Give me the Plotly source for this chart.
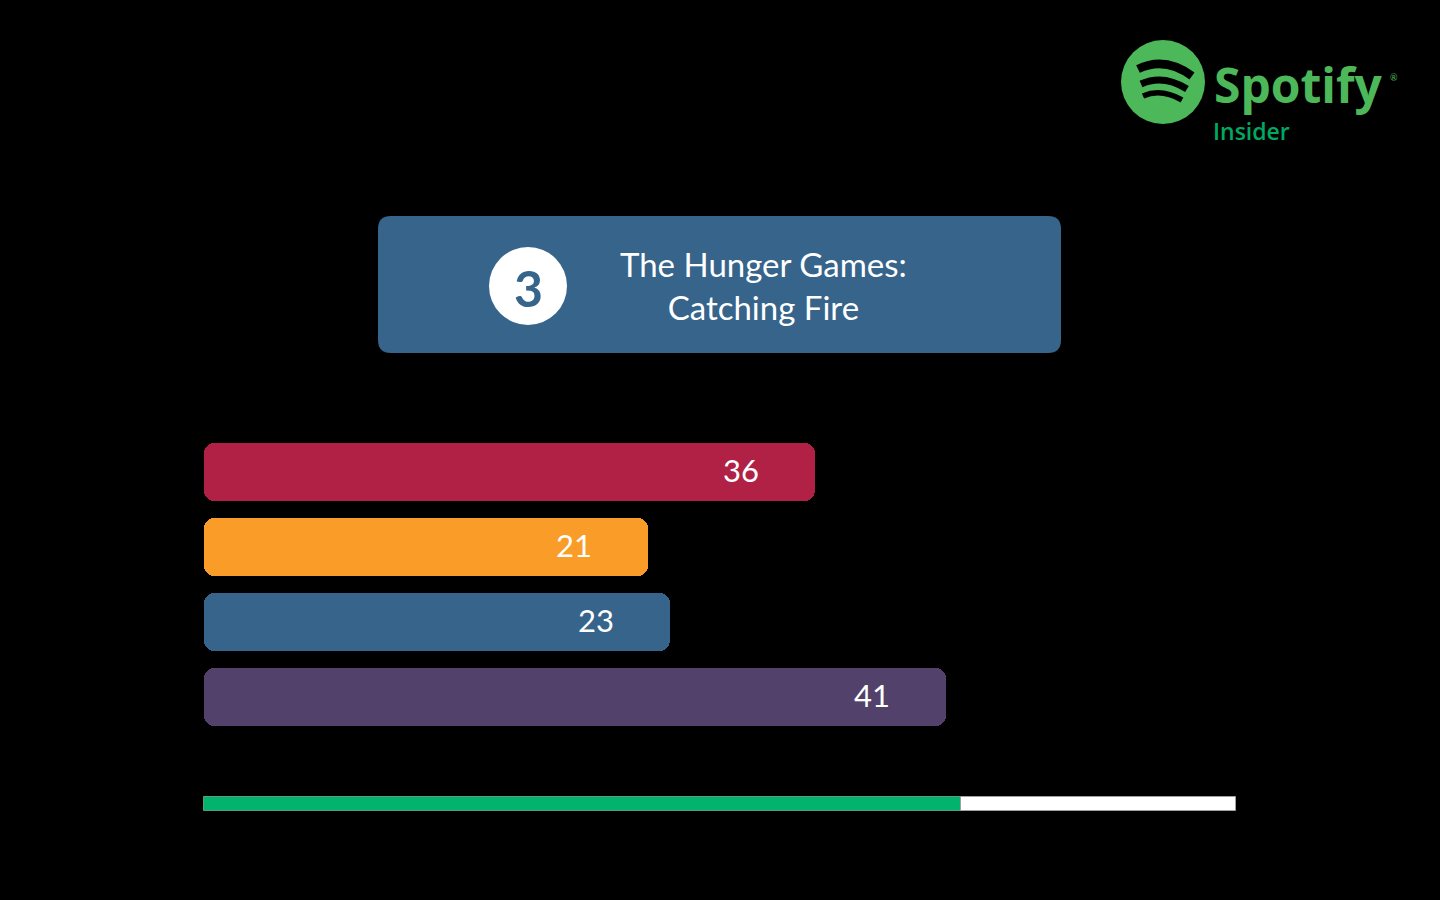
import plotly.graph_objects as go

# ---------------- data ----------------
categories = ["A", "B", "C", "D"]
bar_lengths = [59.2, 43.0, 45.2, 71.9]          # drawn length, % of track
value_labels = ["36", "21", "23", "41"]
bar_colors = ["#B02145", "#F99D28", "#36648B", "#52416B"]
progress_done = 73.4                            # % of progress track
progress_total = 100
rank_label = "3"
title_lines = ["The Hunger Games:", "Catching Fire"]

W, H = 1440, 900
X0_PX, TRACK_PX = 204, 1032            # axis 0 at 204px, 100 units = 1032px
ROW0_PX, ROW_PX = 472, 75              # centre of first bar, row spacing
ppu = TRACK_PX / 100.0

def px(x):
    return x / W

def py(y):
    return 1 - y / H

n = len(categories)
ypos = list(range(n))
cap = 4.0     # left rounded cap width (data units)
fig = go.Figure()

# rounded left caps (negative bars, tip at 0)
fig.add_trace(go.Bar(
    y=ypos, x=[-cap] * n, base=[cap] * n, orientation="h",
    marker=dict(color=bar_colors, cornerradius=10, line=dict(width=0)),
    width=58 / ROW_PX, hoverinfo="skip", showlegend=False))
# main bars, rounded at right end
fig.add_trace(go.Bar(
    y=ypos, x=[v - cap / 2 for v in bar_lengths], base=[cap / 2] * n, orientation="h",
    marker=dict(color=bar_colors, cornerradius=10, line=dict(width=0)),
    width=58 / ROW_PX, hoverinfo="skip", showlegend=False))

# progress track
prog_y = (804 - ROW0_PX) / ROW_PX
fig.add_trace(go.Bar(
    y=[prog_y], x=[progress_done], base=[0], orientation="h",
    marker=dict(color="#02B36D", line=dict(width=1, color="#5c9c7e")),
    width=14 / ROW_PX, hoverinfo="skip", showlegend=False))
fig.add_trace(go.Bar(
    y=[prog_y], x=[progress_total - progress_done], base=[progress_done], orientation="h",
    marker=dict(color="#FFFFFF", line=dict(width=1, color="#A0A0A0")),
    width=14 / ROW_PX, hoverinfo="skip", showlegend=False))

annotations = []
for i, (v, lab) in enumerate(zip(bar_lengths, value_labels)):
    annotations.append(dict(
        x=v, y=i, xref="x", yref="y", text=lab, showarrow=False,
        xanchor="right", yanchor="middle", xshift=-54, yshift=2,
        font=dict(family="Lato", size=31, color="#FFFFFF")))

shapes = []
# title box (rounded rect)
bx0, bx1, by0, by1, r = 378, 1061, 216, 353, 13
path = (f"M {px(bx0 + r)},{py(by0)} L {px(bx1 - r)},{py(by0)} "
        f"Q {px(bx1)},{py(by0)} {px(bx1)},{py(by0 + r)} "
        f"L {px(bx1)},{py(by1 - r)} Q {px(bx1)},{py(by1)} {px(bx1 - r)},{py(by1)} "
        f"L {px(bx0 + r)},{py(by1)} Q {px(bx0)},{py(by1)} {px(bx0)},{py(by1 - r)} "
        f"L {px(bx0)},{py(by0 + r)} Q {px(bx0)},{py(by0)} {px(bx0 + r)},{py(by0)} Z")
shapes.append(dict(type="path", path=path, xref="paper", yref="paper",
                   fillcolor="#36648B", line=dict(width=0), layer="below"))
# rank circle
cx, cy, cr = 528, 286, 39
shapes.append(dict(type="circle", xref="paper", yref="paper",
                   x0=px(cx - cr), x1=px(cx + cr), y0=py(cy + cr), y1=py(cy - cr),
                   fillcolor="#FFFFFF", line=dict(width=0)))
annotations.append(dict(x=px(cx), y=py(cy + 2), xref="paper", yref="paper",
                        text=f"<b>{rank_label}</b>", showarrow=False,
                        xanchor="center", yanchor="middle",
                        font=dict(family="Lato", size=50, color="#36648B")))
annotations.append(dict(x=px(763), y=py(286), xref="paper", yref="paper",
                        text="<br>".join(title_lines), showarrow=False,
                        xanchor="center", yanchor="middle", align="center",
                        font=dict(family="Lato", size=33, color="#FFFFFF")))

# Spotify logo
gx, gy, gr = 1163, 82, 42
logo_green = "#4DB859"
shapes.append(dict(type="circle", xref="paper", yref="paper",
                   x0=px(gx - gr), x1=px(gx + gr), y0=py(gy + gr), y1=py(gy - gr),
                   fillcolor=logo_green, line=dict(width=0)))
arcs = [((1138, 69), (1165, 56), (1192, 76), 8.5),
        ((1141, 84), (1163, 74), (1187, 89), 7),
        ((1143, 96), (1161, 88), (1182, 100), 5.5)]
for (a, c, b, w) in arcs:
    shapes.append(dict(type="path", xref="paper", yref="paper",
                       path=f"M {px(a[0])},{py(a[1])} Q {px(c[0])},{py(c[1])} {px(b[0])},{py(b[1])}",
                       line=dict(color="#000000", width=w)))
annotations.append(dict(x=px(1212), y=py(84), xref="paper", yref="paper",
                        text="<b>Spotify</b>", showarrow=False,
                        xanchor="left", yanchor="middle",
                        font=dict(family="Open Sans", size=48, color=logo_green)))
annotations.append(dict(x=px(1394), y=py(77), xref="paper", yref="paper",
                        text="®", showarrow=False, xanchor="center", yanchor="middle",
                        font=dict(family="Lato", size=9, color=logo_green)))
annotations.append(dict(x=px(1211), y=py(131), xref="paper", yref="paper",
                        text="Insider", showarrow=False,
                        xanchor="left", yanchor="middle",
                        font=dict(family="Open Sans", size=23, color="#00A862", weight=600)))

x_lo = -X0_PX / ppu
x_hi = (W - X0_PX) / ppu
y_bottom = (H - ROW0_PX) / ROW_PX
y_top = -ROW0_PX / ROW_PX

fig.update_layout(
    width=W, height=H, margin=dict(l=0, r=0, t=0, b=0),
    paper_bgcolor="#000000", plot_bgcolor="#000000",
    barmode="overlay", bargap=0,
    xaxis=dict(range=[x_lo, x_hi], visible=False, fixedrange=True),
    yaxis=dict(range=[y_bottom, y_top], visible=False, fixedrange=True),
    shapes=shapes, annotations=annotations, showlegend=False,
)

fig.write_html("out.html")
